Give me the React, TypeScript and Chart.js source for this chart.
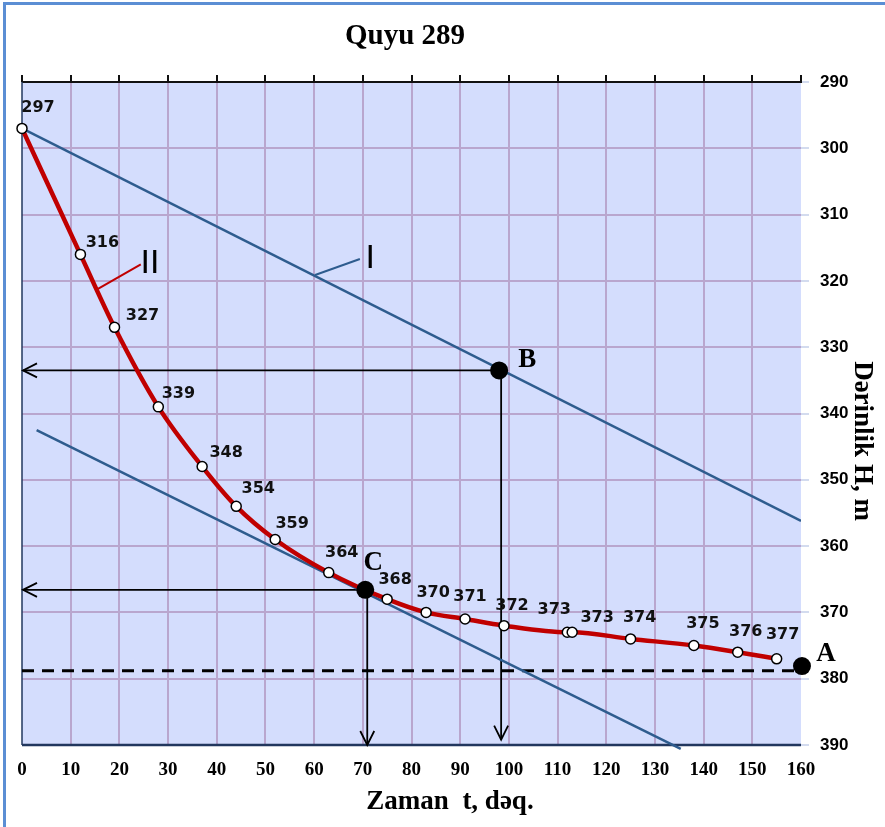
import React, { useEffect, useRef } from "react";
import { Chart, registerables } from "chart.js";

Chart.register(...registerables);

// ---- data ----
const times = [0, 12, 19, 28, 37, 44, 52, 63, 75, 83, 91, 99, 112, 113, 125, 138, 147, 155];
const depths = [297, 316, 327, 339, 348, 354, 359, 364, 368, 370, 371, 372, 373, 373, 374, 375, 376, 377];
const depthLabels = depths.map(String);

const lineIX = [0, 160];
const lineIY = [297, 356.2];
const lineIIX = [3, 135.3];
const lineIIY = [342.5, 390.6];
const dashedX = [0, 159];
const dashedY = [378.8, 378.8];

const markNames = ["A", "B", "C"];
const markX = [160.2, 98, 70.5];
const markY = [378.1, 333.5, 366.6];

const xMin = 0, xMax = 160, xStep = 10;
const yMin = 290, yMax = 390, yStep = 10;

const chartTitle = "Quyu 289";
const xTitle = "Zaman  t, dəq.";
const yTitle = "Dərinlik H, m";
const curveLabels = ["I", "II"];

// ---- layout (pixels / styles, not data) ----
const labelOffsets: [number, number][] = [
  [16, -21], [22, -12], [28, -11], [20, -13], [24, -14], [22, -17], [17, -16], [13, -20],
  [8, -19], [7, -20], [5, -22], [8, -20], [-13, -22], [25, -14], [9, -21], [9, -22], [8, -20], [6, -24],
];
const markLabelOffsets: [number, number][] = [[24, -12], [28, -10], [8, -27]];

const BLUE_LINE = "#2E5C8E";
const RED = "#C00000";
const GRID = "#B9A6CE";
const PLOT_BG = "#D4DDFD";
const NAVY = "#22375E";

function arrowHead(ctx: CanvasRenderingContext2D, x: number, y: number, dir: "left" | "down") {
  ctx.beginPath();
  if (dir === "left") {
    ctx.moveTo(x + 14, y - 7);
    ctx.lineTo(x, y);
    ctx.lineTo(x + 14, y + 7);
  } else {
    ctx.moveTo(x - 7, y - 14);
    ctx.lineTo(x, y);
    ctx.lineTo(x + 7, y - 14);
  }
  ctx.stroke();
}

const decorPlugin = {
  id: "decor",
  beforeDraw(chart: any) {
    const { ctx, chartArea } = chart;
    const { left, top, right, bottom } = chartArea;
    ctx.save();
    ctx.fillStyle = PLOT_BG;
    ctx.fillRect(left, top, right - left, bottom - top);
    ctx.restore();
  },
  beforeDatasetsDraw(chart: any) {
    const { ctx, chartArea, scales } = chart;
    const { left, top, right, bottom } = chartArea;
    const xs = scales.x, ys = scales.y;
    ctx.save();
    // top axis line with upward ticks
    ctx.strokeStyle = "#111";
    ctx.lineWidth = 2;
    ctx.beginPath();
    ctx.moveTo(left, top);
    ctx.lineTo(right + 1, top);
    ctx.stroke();
    for (let v = xMin; v <= xMax; v += xStep) {
      const px = Math.round(xs.getPixelForValue(v));
      ctx.beginPath();
      ctx.moveTo(px, top);
      ctx.lineTo(px, top - 7);
      ctx.stroke();
    }
    // left and bottom axis lines
    ctx.strokeStyle = NAVY;
    ctx.lineWidth = 1.5;
    ctx.beginPath();
    ctx.moveTo(left, top);
    ctx.lineTo(left, bottom);
    ctx.stroke();
    ctx.lineWidth = 2.5;
    ctx.beginPath();
    ctx.moveTo(left, bottom);
    ctx.lineTo(right, bottom);
    ctx.stroke();

    // arrows from B and C
    ctx.strokeStyle = "#000";
    ctx.lineWidth = 1.8;
    const tipsY = [389.2, 390];
    [1, 2].forEach((i, k) => {
      const px = xs.getPixelForValue(markX[i]);
      const py = ys.getPixelForValue(markY[i]);
      const lx = xs.getPixelForValue(xMin) + 1;
      const by = ys.getPixelForValue(tipsY[k]);
      ctx.beginPath();
      ctx.moveTo(px, py);
      ctx.lineTo(lx, py);
      ctx.stroke();
      arrowHead(ctx, lx, py, "left");
      ctx.beginPath();
      ctx.moveTo(px + 2, py);
      ctx.lineTo(px + 2, by);
      ctx.stroke();
      arrowHead(ctx, px + 2, by, "down");
    });
    ctx.restore();
  },
  afterDatasetsDraw(chart: any) {
    const { ctx, scales } = chart;
    const xs = scales.x, ys = scales.y;
    ctx.save();
    // data labels
    ctx.fillStyle = "#111";
    ctx.font = 'bold 16px "DejaVu Sans"';
    ctx.textAlign = "center";
    ctx.textBaseline = "middle";
    times.forEach((t, i) => {
      const px = xs.getPixelForValue(t);
      const py = ys.getPixelForValue(depths[i]);
      const [dx, dy] = labelOffsets[i];
      ctx.fillText(depthLabels[i], px + dx, py + dy);
    });
    // A, B, C
    ctx.font = 'bold 27px "Liberation Serif"';
    ctx.fillStyle = "#000";
    markNames.forEach((n, i) => {
      const px = xs.getPixelForValue(markX[i]);
      const py = ys.getPixelForValue(markY[i]);
      const [dx, dy] = markLabelOffsets[i];
      ctx.fillText(n, px + dx, py + dy);
    });
    // leader lines for I and II
    ctx.lineWidth = 2;
    ctx.strokeStyle = BLUE_LINE;
    ctx.beginPath();
    ctx.moveTo(xs.getPixelForValue(60.2), ys.getPixelForValue(319.1));
    ctx.lineTo(xs.getPixelForValue(69.4), ys.getPixelForValue(316.7));
    ctx.stroke();
    ctx.strokeStyle = RED;
    ctx.beginPath();
    ctx.moveTo(xs.getPixelForValue(15.6), ys.getPixelForValue(321.2));
    ctx.lineTo(xs.getPixelForValue(24.4), ys.getPixelForValue(317.5));
    ctx.stroke();
    ctx.fillStyle = "#000";
    ctx.font = '34px "Liberation Sans"';
    ctx.fillText(curveLabels[0], xs.getPixelForValue(71.5), ys.getPixelForValue(316.6));
    ctx.fillText(curveLabels[1], xs.getPixelForValue(26.3), ys.getPixelForValue(317.4));
    ctx.restore();
  },
  afterDraw(chart: any) {
    const { ctx } = chart;
    ctx.save();
    ctx.fillStyle = "#000";
    ctx.textAlign = "center";
    ctx.textBaseline = "middle";
    ctx.font = 'bold 29px "Liberation Serif"';
    ctx.fillText(chartTitle, 405, 37);
    ctx.font = 'bold 27px "Liberation Serif"';
    ctx.fillText(xTitle, 450, 802);
    ctx.translate(862, 441);
    ctx.rotate(Math.PI / 2);
    ctx.fillText(yTitle, 0, 0);
    ctx.restore();
  },
};

export default function App() {
  const canvasRef = useRef<HTMLCanvasElement | null>(null);

  useEffect(() => {
    if (!canvasRef.current) return;
    const toXY = (xs: number[], ys: number[]) => xs.map((x, i) => ({ x, y: ys[i] }));
    const chart = new Chart(canvasRef.current, {
      type: "line",
      data: {
        datasets: [
          {
            label: "marks",
            data: toXY(markX, markY),
            showLine: false,
            pointRadius: 9,
            pointBackgroundColor: "#000",
            pointBorderColor: "#000",
            pointBorderWidth: 0,
            clip: false,
            order: 0,
          },
          {
            label: "curve",
            data: toXY(times, depths),
            borderColor: RED,
            borderWidth: 4.5,
            cubicInterpolationMode: "monotone",
            pointRadius: 5,
            pointBackgroundColor: "#fff",
            pointBorderColor: "#000",
            pointBorderWidth: 1.5,
            clip: false,
            order: 1,
          },
          {
            label: "I",
            data: toXY(lineIX, lineIY),
            borderColor: BLUE_LINE,
            borderWidth: 2.5,
            pointRadius: 0,
            order: 2,
          },
          {
            label: "II",
            data: toXY(lineIIX, lineIIY),
            borderColor: BLUE_LINE,
            borderWidth: 2.5,
            pointRadius: 0,
            clip: false,
            order: 2,
          },
          {
            label: "level",
            data: toXY(dashedX, dashedY),
            borderColor: "#000",
            borderWidth: 3,
            borderDash: [12, 8],
            pointRadius: 0,
            order: 3,
          },
        ],
      },
      options: {
        animation: false,
        responsive: true,
        maintainAspectRatio: false,
        layout: { padding: { left: 22, top: 82, right: 0, bottom: 0 } },
        plugins: {
          legend: { display: false },
          tooltip: { enabled: false },
          title: { display: false },
        },
        scales: {
          x: {
            type: "linear",
            position: "bottom",
            min: xMin,
            max: xMax,
            ticks: {
              stepSize: xStep,
              color: "#000",
              font: { family: '"Liberation Serif"', weight: "bold", size: 19 },
              padding: 14,
              maxRotation: 0,
            },
            grid: {
              color: (c: any) => (c.tick && (c.tick.value === xMin || c.tick.value === xMax) ? "rgba(0,0,0,0)" : GRID),
              lineWidth: 2,
              drawTicks: false,
            },
            border: { display: false },
            afterFit: (s: any) => {
              s.height = 82;
            },
          },
          y: {
            type: "linear",
            position: "right",
            reverse: true,
            min: yMin,
            max: yMax,
            ticks: {
              stepSize: yStep,
              color: "#000",
              font: { family: '"Liberation Sans"', weight: "bold", size: 17 },
              padding: 11,
            },
            grid: {
              color: GRID,
              lineWidth: 2,
              tickColor: "#D3DBEF",
              tickLength: 8,
            },
            border: { display: false },
            afterFit: (s: any) => {
              s.width = 84;
            },
          },
        },
      },
      plugins: [decorPlugin],
    });
    return () => chart.destroy();
  }, []);

  return (
    <div
      style={{
        position: "fixed",
        left: 0,
        top: 0,
        width: 885,
        height: 827,
        overflow: "hidden",
        background: "#fff",
      }}
    >
      <canvas ref={canvasRef} style={{ position: "absolute", left: 0, top: 0 }} />
      <div
        style={{
          position: "absolute",
          left: 3,
          top: 2,
          width: 900,
          height: 900,
          border: "3px solid #5B8ED4",
          pointerEvents: "none",
        }}
      />
    </div>
  );
}
